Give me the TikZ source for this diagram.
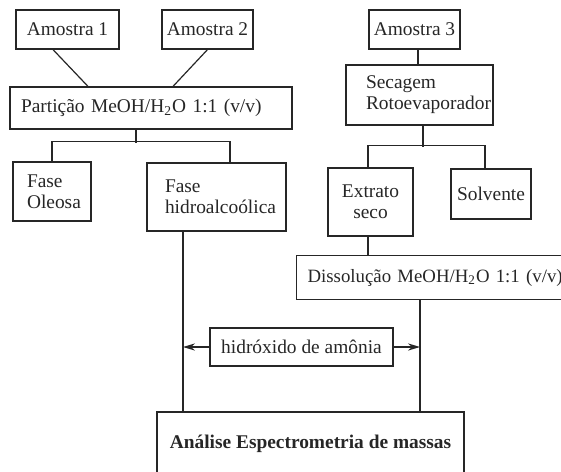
\documentclass[tikz,border=0pt]{standalone}
\usepackage{fontspec}
\setmainfont{Liberation Serif}
\usetikzlibrary{arrows.meta}

\begin{document}
\begin{tikzpicture}[x=0.5pt, y=-0.5pt,
    every node/.style={font=\fontsize{9.7pt}{10.5pt}\selectfont, text=black!85},
    caixa/.style={draw=black!85, line width=0.6pt, inner sep=0pt},
    linha/.style={draw=black!85, line width=0.6pt},
    seta/.style={linha, -{Stealth[length=6pt, width=3.6pt]}}]
  \useasboundingbox (0,0) rectangle (561,471);
  % amostras
  \node[caixa, minimum width=51.5pt, minimum height=19.5pt] (am1) at (67.5,29.5) {Amostra 1};
  \node[caixa, minimum width=45.5pt, minimum height=19.5pt] (am2) at (207.5,29.5) {Amostra 2};
  \node[caixa, minimum width=45.5pt, minimum height=19.5pt] (am3) at (414.5,29.5) {Amostra 3};
  % lado esquerdo
  \node[caixa, align=left, text width=130pt, inner xsep=5.5pt, minimum height=21pt] (part) at (151,108) {Partição MeOH/H\textsubscript{2}O 1:1 (v/v)};
  \node[caixa, align=left, text width=25pt, inner xsep=7pt, minimum height=29.5pt] (oleosa) at (52,191.5) {Fase\\Oleosa};
  \node[caixa, align=left, text width=51.5pt, inner xsep=9pt, minimum height=34pt] (hidro) at (216.5,197) {Fase\\hidroalcoólica};
  % lado direito
  \node[caixa, align=left, text width=53.5pt, inner xsep=10pt, minimum height=30pt] (secagem) at (419.5,95) {Secagem\\Rotoevaporador};
  \node[caixa, align=center, minimum width=42.5pt, minimum height=34pt] (extrato) at (370.5,202) {Extrato\\seco};
  \node[caixa, minimum width=40pt, minimum height=25pt] (solvente) at (491,194) {Solvente};
  \node[caixa, anchor=north west, align=left, text width=136pt, inner xsep=5.5pt, minimum height=22pt,
        font=\fontsize{9.4pt}{10.5pt}\selectfont] (dissol) at (296,255) {Dissolução MeOH/H\textsubscript{2}O 1:1 (v/v)};
  % final
  \node[caixa, minimum width=91.5pt, minimum height=19pt] (hidrox) at (301.5,347) {hidróxido de amônia};
  \node[caixa, minimum width=153.5pt, minimum height=32pt, font=\fontsize{9.7pt}{10.5pt}\selectfont\bfseries] (analise) at (310.5,444) {Análise Espectrometria de massas};

  \draw[linha] ([xshift=-7.25pt]am1.south) -- ([xshift=-31.5pt]part.north);
  \draw[linha] (am2.south) -- ([xshift=11pt]part.north);
  \draw[linha] ([xshift=-7.5pt]part.south) -- ++(0,13);
  \draw[linha] (oleosa.north) -- ++(0,-20) -| ([xshift=6.75pt]hidro.north);

  \draw[linha] ([xshift=1.75pt]am3.south) -- ([xshift=1.75pt]am3.south |- secagem.north);
  \draw[linha] ([xshift=1.75pt]secagem.south) -- ++(0,21);
  \draw[linha] ([xshift=-1.25pt]extrato.north) -- ++(0,-22) -| ([xshift=-3pt]solvente.north);
  \draw[linha] ([xshift=-1.25pt]extrato.south) -- ([xshift=-1.25pt]extrato.south |- dissol.north);

  \coordinate (hb) at ([xshift=-16.75pt]hidro.south);
  \coordinate (db) at ([xshift=62pt]dissol.south west);
  \draw[linha] (hb) -- (hb |- analise.north);
  \draw[linha] (db) -- (db |- analise.north);
  \draw[seta] (hidrox.west) -- (hidrox.west -| hb);
  \draw[seta] (hidrox.east) -- (hidrox.east -| db);
\end{tikzpicture}
\end{document}
